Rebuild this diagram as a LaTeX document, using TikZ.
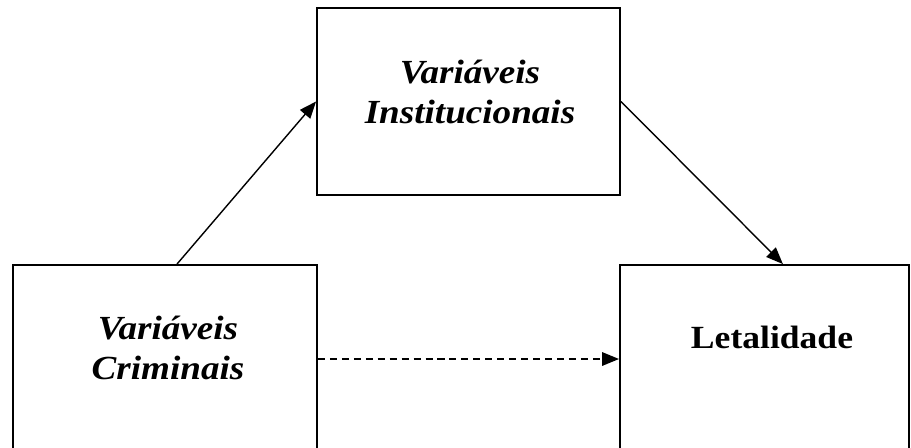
\documentclass[tikz,border=0pt]{standalone}
\usepackage{fontspec}
\setmainfont{Liberation Serif}[FakeStretch=1.1]
\usepackage{tikz}
\usetikzlibrary{arrows,arrows.meta,positioning}

\begin{document}
\begin{tikzpicture}[
        x = 0.025cm, y = -0.025cm, % one unit = one pixel, y going down
        > = {Triangle[length=12pt,width=9.5pt]}, % arrow head style
        semithick % line style
    ]

    \tikzset{
        varbox/.style = {
            draw = black,
            line width = 1.3pt,
            fill = white,
            inner sep = 0pt
        },
        vartext/.style = {
            font = \fontsize{24}{29}\selectfont\bfseries\itshape,
            align = center
        },
        link/.style = {->, line width = 1pt}
    }

    \clip (0,0) rectangle (911,447);

    \node[varbox, minimum width = 7.6cm, minimum height = 4.7cm] (crim) at (165,359) {};
    \node[varbox, minimum width = 7.575cm, minimum height = 4.675cm] (inst) at (468.5,101.5) {};
    \node[varbox, minimum width = 7.225cm, minimum height = 4.7cm] (leta) at (764.5,359) {};

    \node[vartext] (crimtext) at (168,348) {Variáveis\\Criminais};
    \node[vartext] (insttext) at (470,92) {Variáveis\\Institucionais};
    \node[vartext, font = \fontsize{23}{29}\selectfont\bfseries] (letatext) at (772,337) {Letalidade};

    \draw[link] ([xshift=0.3cm]crim.north) -- (inst.west);
    \draw[link] (inst.east) -- ([xshift=0.46cm]leta.north);
    \draw[link, line width = 1.3pt, dash pattern = on 5pt off 3.5pt] (crim.east) -- (leta.west);
\end{tikzpicture}
\end{document}
